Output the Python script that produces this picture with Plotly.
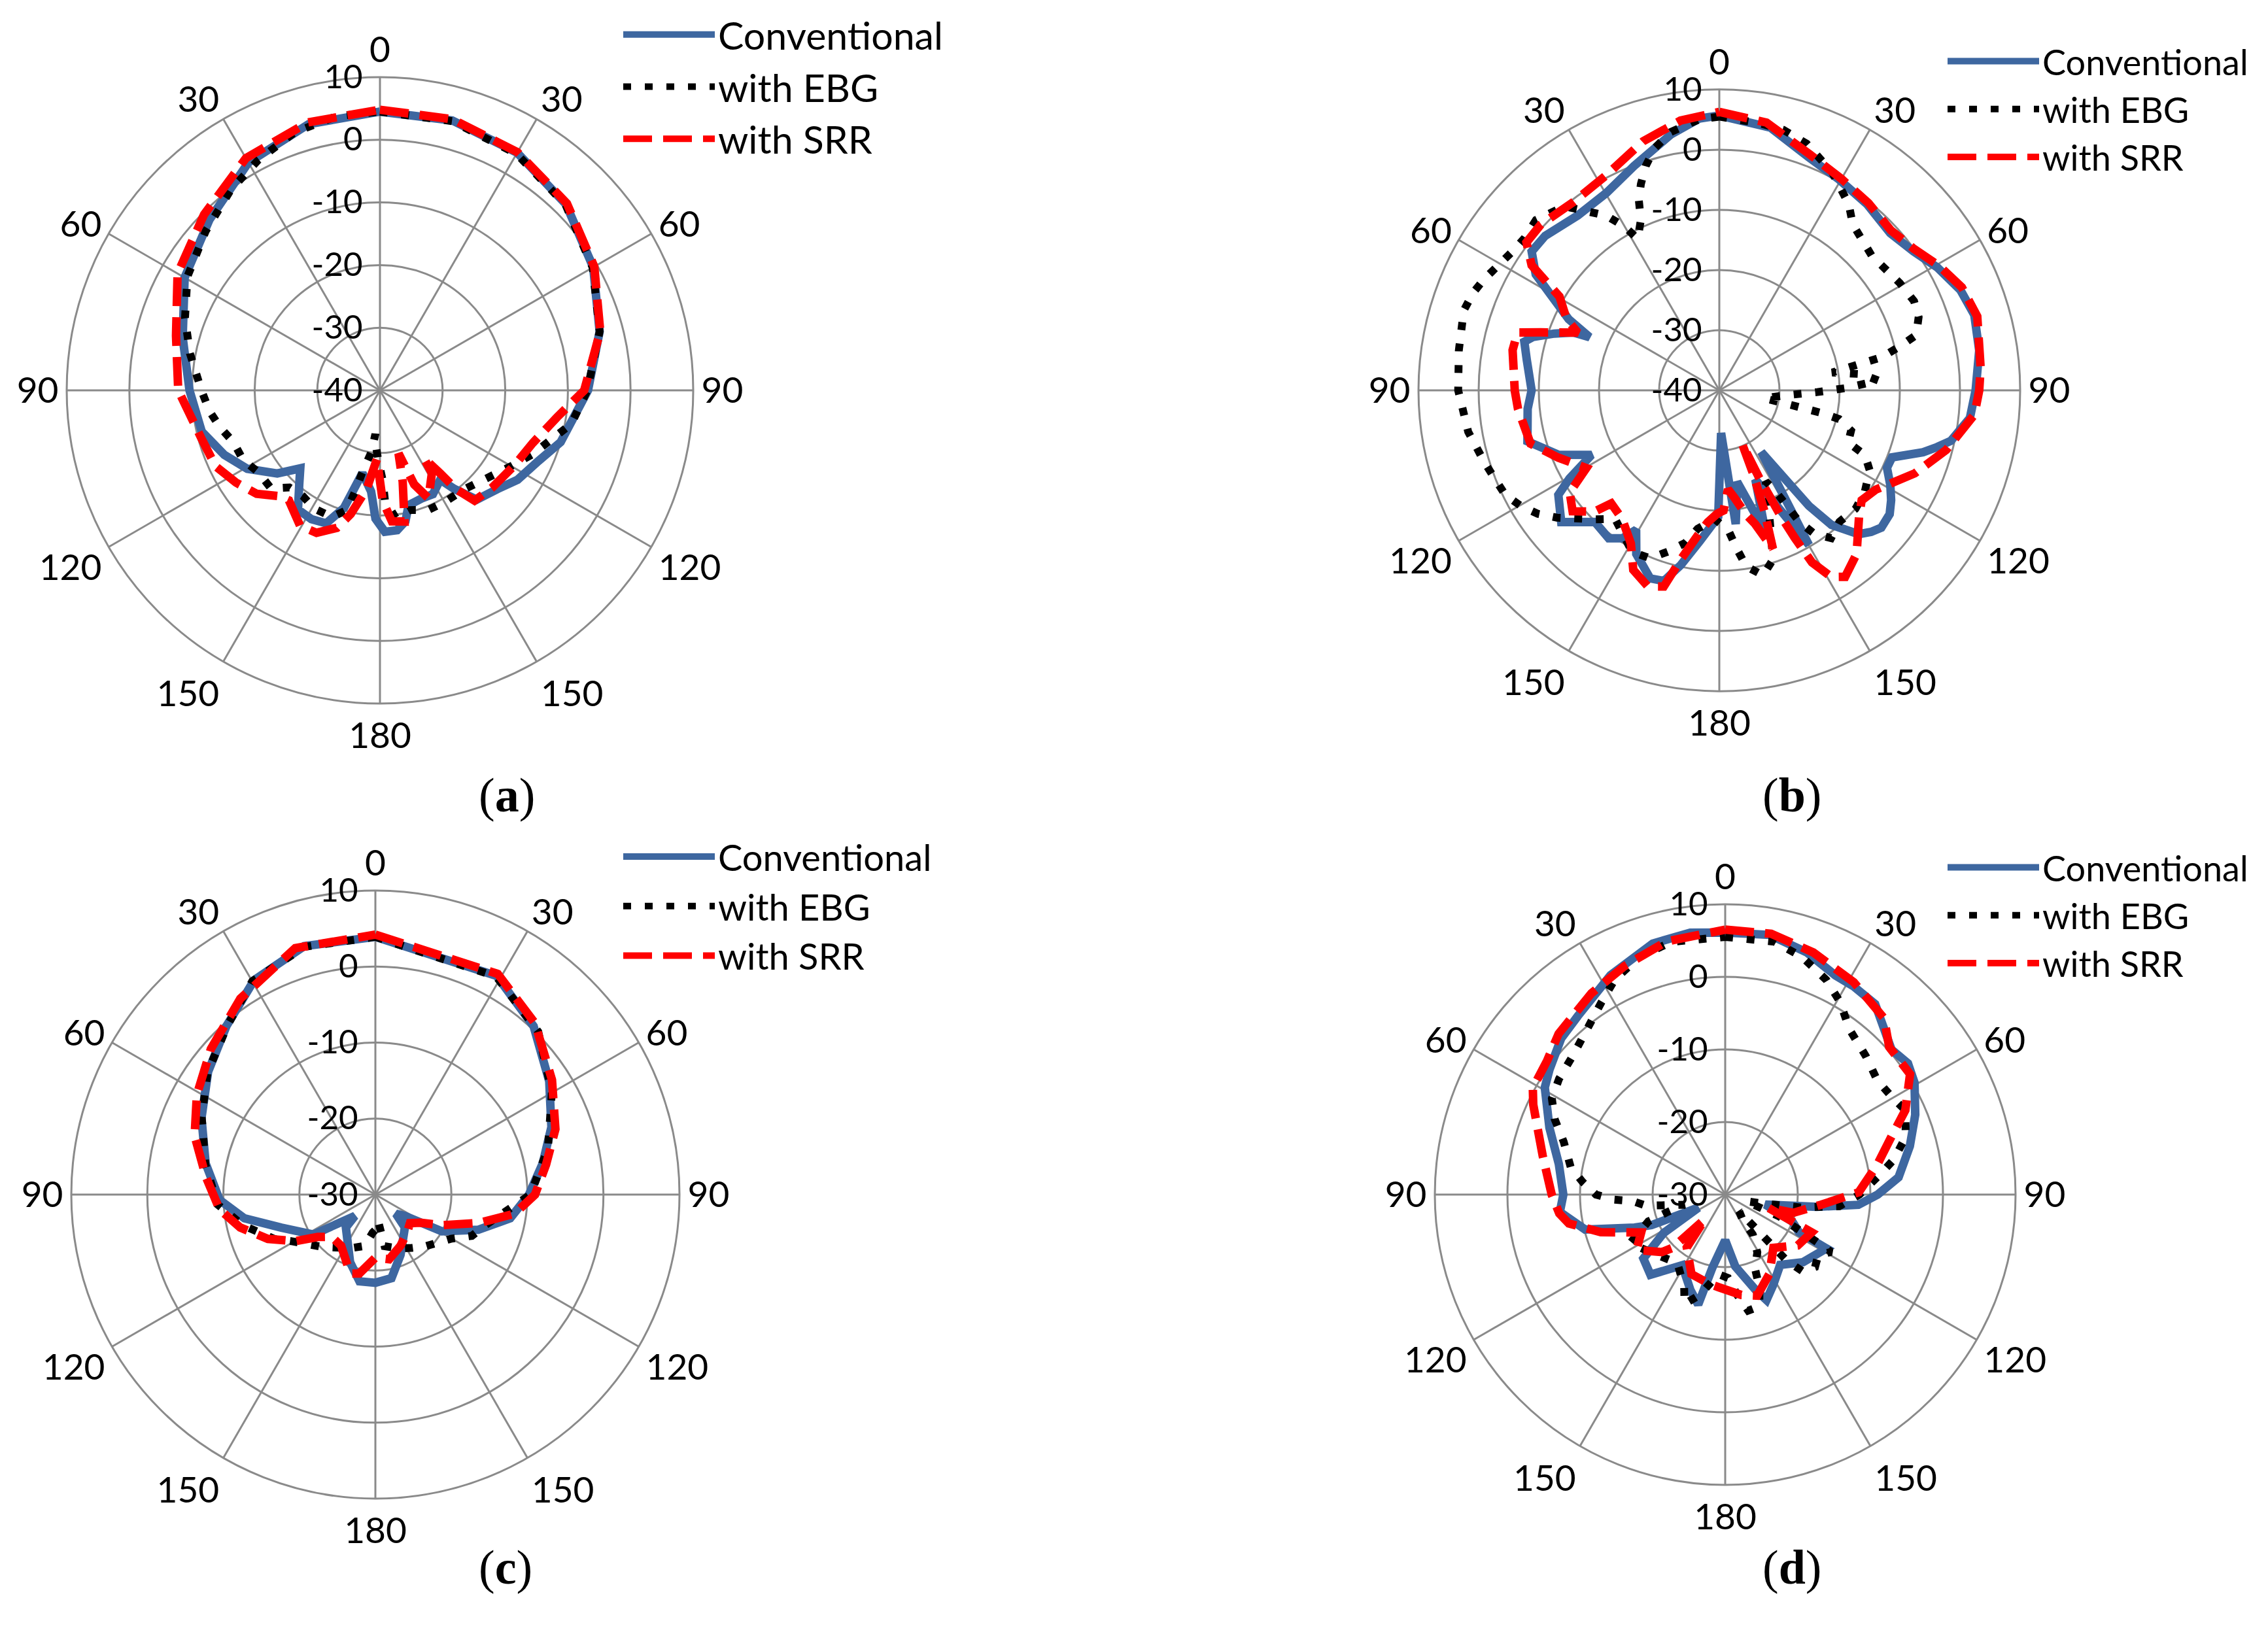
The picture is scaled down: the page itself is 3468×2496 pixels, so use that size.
import plotly.graph_objects as go

# ---------------- data (angle in degrees, gain in dB) ----------------
ang_vals = [0, 30, 60, 90, 120, 150, 180, 210, 240, 270, 300, 330]
ang_text = ["0", "30", "60", "90", "120", "150", "180", "150", "120", "90", "60", "30"]

# (a)
a_conv_t = [0, 15, 30, 45, 60, 75, 90, 106, 114, 123, 130, 138.5, 143, 146, 153, 159, 166, 169, 173, 178,
            182, 185, 192, 197, 202, 208, 214.5, 220.6, 225.6, 231, 239.4, 247.5, 257, 270, 285, 300, 315, 330, 345, 360]
a_conv_r = [4.5, 4.6, 3.8, 2.0, -0.7, -3.7, -6.8, -10.0, -12.3, -13.8, -15.5, -16.7, -20.3, -22.8, -21.4, -21.5, -21.1, -18.7, -17.5, -17.4,
            -19.5, -23.8, -26.5, -20.4, -17.1, -16.7, -16.9, -20.2, -22.2, -18.9, -15.4, -13.1, -10.8, -9.6, -7.4, -4.0, -1.5, 2.0, 4.0, 4.5]
a_ebg_t = [0, 15, 30, 45, 60, 75, 90, 100, 113, 120, 139, 149, 158, 166, 173, 177.4, 178.3, 181.6, 184, 186, 188, 192.2, 193.8, 195.4,
           200.7, 209, 216, 223, 228, 236, 243, 250.5, 257, 263, 270, 281, 290.4, 300.6, 312.5, 323.4, 332.2, 341.8, 351, 360]
a_ebg_r = [4.5, 4.5, 3.6, 1.9, -0.8, -3.7, -6.9, -9.0, -13.7, -15.8, -19.2, -19.4, -19.4, -20.3, -19.5, -22.4, -25.7, -29.0, -31.0, -33.0, -30.0, -26.5, -23.4, -20.2,
           -18.4, -18.4, -19.1, -18.8, -16.6, -16.6, -15.5, -15.2, -13.8, -12.6, -11.5, -9.1, -6.8, -4.3, -2.3, -0.1, 1.6, 3.4, 4.3, 4.5]
a_srr_t = [0, 15, 30, 45, 60, 75, 90, 98.6, 109, 119, 131, 139.4, 142.4, 144.1, 147.1, 147.9, 155.8, 160, 163.6, 166, 169.4, 174.8, 178.6,
           182.5, 187.7, 193.3, 197.4, 204, 210.5, 219.6, 223.5, 230, 237.4, 245.2, 254.8, 270, 285, 300, 315, 330, 345, 360]
a_srr_r = [4.8, 4.8, 3.9, 2.2, -0.5, -3.6, -7.4, -11.4, -14.2, -15.4, -16.3, -16.8, -20.1, -23.7, -27.1, -24.4, -21.1, -24.0, -29.5, -25.0, -18.7, -19.0, -22.4,
           -29.0, -24.1, -19.7, -17.0, -15.1, -14.9, -17.2, -16.7, -14.3, -12.7, -11.1, -10.5, -7.8, -6.3, -2.7, -0.3, 2.8, 4.3, 4.8]

# (b)
b_conv_t = [0, 11, 21, 29.6, 38.5, 47.4, 54.4, 60.6, 67.4, 73.5, 81.3, 90, 96.3, 102.3, 104.6, 106.9, 111.2, 114.8, 119, 122.6, 126, 130.3,
            133, 135.9, 140.2, 142.2, 145.8, 149.9, 158, 162, 169, 173, 177.6, 180.5, 187.4, 192.4, 196.2, 200.2, 206.9, 210.8, 213.2,
            216.8, 223.4, 230.2, 237, 239.5, 243.2, 248.2, 255.1, 264.5, 270, 279, 284, 286, 289, 291.6, 292.3, 295.3, 299.3, 302.3,
            306.5, 311.6, 321, 330.2, 339.2, 349.3, 355.8, 360]
b_conv_r = [5.7, 4.5, 1.5, 0.3, -0.5, -1.4, -0.3, 1.6, 3.4, 4.2, 3.7, 2.6, 1.9, -0.6, -2.6, -4.6, -9.2, -9.3, -7.5, -6.1, -5.0, -4.7,
            -5.5, -6.7, -10.9, -15.7, -27.6, -10.3, -24.0, -15.1, -24.5, -17.6, -32.9, -19.0, -14.7, -10.3, -7.0, -6.7, -9.5, -13.0, -10.6,
            -9.3, -9.9, -5.8, -8.1, -11.1, -16.2, -11.2, -7.0, -8.0, -8.8, -7.6, -6.6, -7.8, -11.0, -13.9, -16.7, -12.3, -8.1, -3.9,
            -1.2, -1.3, -2.6, -2.2, -0.1, 3.3, 5.3, 5.7]
b_ebg_t = [0, 8.6, 13.8, 19.5, 27.4, 34.8, 38.8, 48.6, 59.3, 65.4, 69.8, 74.3, 76.3, 78.5, 81, 83.5, 86.5, 89, 91, 93.5, 97, 100,
           101.5, 102.5, 103.5, 107, 112, 114, 118, 125, 131, 137.6, 142.9, 146.5, 148.7, 149.7, 151.1, 153, 158.8, 162.4, 166.7,
           171.3, 173.7, 176.3, 182.1, 188.9, 192.6, 197.6, 202.4, 208.4, 213.4, 219, 223.8, 231.9, 235.8, 239.8, 244, 252.8,
           260.6, 270, 278.7, 287.4, 291.7, 295.5, 299.5, 304, 308, 312.9, 319.9, 327.1, 330, 331.7, 335.3, 337.1, 339.2, 341.9,
           345.1, 349.4, 355.8, 360]
b_ebg_r = [5.5, 4.9, 4.6, 3.5, 0.8, -2.3, -4.6, -6.2, -5.1, -4.4, -4.7, -6.0, -9.1, -12.5, -21.0, -16.2, -13.5, -19.0, -23.7, -28.0, -31.0, -32.4,
           -28.0, -22.4, -19.5, -17.1, -16.9, -13.5, -11.7, -10.5, -10.0, -10.4, -9.2, -11.4, -14.4, -17.8, -21.1, -23.0, -16.8, -10.5, -8.4,
           -10.4, -13.5, -16.7, -18.6, -16.7, -14.0, -11.9, -9.8, -9.5, -11.1, -12.5, -10.3, -5.7, -3.5, -1.8, -0.4, 0.8,
           2.3, 3.4, 3.8, 4.5, 4.0, 3.2, 2.2, 1.4, 1.1, 1.6, 0.0, -5.4, -8.6, -11.4, -8.8, -5.6, -3.3, -0.7,
           1.7, 3.7, 5.2, 5.5]
b_srr_t = [0, 10, 21, 30, 38.5, 47, 54, 60.5, 67, 74, 85, 90, 95.4, 104.7, 113, 122.4, 127.7, 132.1, 140, 146, 149, 151.7, 152.9,
           153.9, 155.5, 156.9, 157.9, 159.5, 161.3, 165, 168, 172, 175, 178, 181, 185, 188.5, 192.8, 195.8, 200, 205.6, 210, 217,
           223.7, 225.8, 230.5, 235.7, 239.7, 247.3, 254.2, 264.7, 270, 281, 286, 288, 292.2, 295, 300.4, 303.7, 307.5, 312.9,
           322.2, 332.3, 343, 351.8, 360]
b_srr_r = [6.3, 5.2, 2.0, 0.6, -0.2, -1.0, 0.0, 2.0, 3.8, 4.6, 3.6, 3.2, 2.6, -1.0, -4.7, -9.2, -10.1, -8.7, -4.5, -2.6, -3.8, -7.5, -12.4,
           -16.6, -24.0, -30.3, -25.1, -18.6, -12.2, -17.0, -19.0, -22.0, -23.5, -20.0, -19.5, -18.0, -15.6, -11.2, -6.1, -5.3, -6.9, -10.6, -13.2,
           -14.0, -11.1, -8.4, -9.9, -14.4, -11.0, -7.4, -6.4, -6.0, -5.0, -5.1, -8.8, -14.6, -12.0, -9.2, -2.5, 0.4, 0.5,
           -0.4, 0.4, 3.3, 5.3, 6.3]

# (c)
c_conv_t = [0, 29, 43.2, 56.9, 69, 79.4, 90, 100, 108.9, 118.9, 125.9, 133, 138, 157.4, 169.1, 180, 190.4, 200.5, 222, 223.8,
            237.2, 250.6, 259.7, 268, 280.4, 293.8, 306.3, 318.6, 330.5, 344, 360]
c_conv_r = [3.9, 2.9, 0.4, -2.7, -5.2, -7.6, -9.8, -12.0, -15.7, -20.0, -25.2, -26.3, -24.2, -21.4, -18.8, -18.4, -18.4, -20.5, -24.2, -26.1,
            -20.3, -16.9, -12.5, -9.5, -7.3, -5.0, -2.7, -0.4, 2.4, 4.0, 3.9]
c_ebg_t = [0, 29, 45, 60, 75, 90, 105.6, 113.2, 120.4, 135.5, 145.6, 156.9, 169.9, 174, 178, 184, 191.6, 205.2, 225.3, 240.5,
           246.2, 257, 266.4, 280, 294, 306, 319, 330, 344, 360]
c_ebg_r = [3.9, 2.8, 0.3, -3.2, -6.5, -9.6, -15.0, -16.2, -18.5, -20.5, -21.5, -22.3, -23.1, -26.5, -25.5, -25.0, -23.1, -22.2, -20.2, -17.5,
           -15.5, -12.1, -9.2, -7.3, -5.0, -2.7, -0.4, 2.4, 3.9, 3.9]
c_srr_t = [0, 29, 43, 57, 70, 80, 90, 97.8, 105.4, 114.8, 122, 129.6, 140, 153.8, 168, 180, 191.5, 197.7, 213.8, 226, 233.6,
           239.8, 247.6, 256.3, 264.6, 275.9, 288, 299.2, 311.5, 325.4, 342, 360]
c_srr_r = [4.2, 3.2, 0.8, -2.3, -4.8, -7.2, -9.0, -11.5, -15.9, -20.4, -23.0, -24.1, -23.5, -22.5, -21.3, -21.7, -19.4, -19.1, -21.9, -22.0, -20.6,
           -17.8, -14.7, -11.7, -9.4, -7.6, -5.0, -3.1, -1.1, 1.3, 4.1, 4.2]

# (d)
d_conv_t = [0, 9.7, 18.7, 26.7, 31.7, 38.2, 43.9, 48.9, 54.3, 59.4, 67.2, 75.3, 84.3, 90, 94.4, 97.6, 104, 112, 117, 118, 131,
            142, 152, 158.6, 162.5, 172, 180, 189.9, 193.8, 200, 211.3, 223, 232, 238, 244, 247.5, 250, 256, 264, 270, 280.4,
            290.8, 300.7, 305.4, 313.6, 320.5, 332.4, 343.9, 352.4, 360]
d_conv_r = [6.1, 6.3, 5.2, 3.8, 3.7, 3.4, 1.6, 0.4, 1.0, 0.3, -1.6, -3.7, -6.0, -9.0, -11.6, -17.3, -24.3, -20.0, -18.6, -14.2, -15.8,
            -17.7, -15.9, -14.4, -16.3, -20.0, -23.7, -19.8, -14.4, -16.0, -18.6, -14.9, -15.7, -20.0, -25.9, -19.0, -16.7, -10.1, -7.1, -7.7, -6.7,
            -4.1, -1.1, -0.3, 1.2, 1.9, 4.1, 6.0, 6.4, 6.1]
d_ebg_t = [0, 11, 18, 25.2, 30.8, 36.9, 45.4, 53.2, 59.5, 64.9, 72.3, 78.3, 82, 90, 95.8, 99.6, 103.6, 107.6, 112, 118.4, 123.2,
           128.9, 134.8, 137, 140, 145.3, 145.4, 150.9, 158.1, 159.7, 163, 168.8, 173, 178, 185, 194, 200.4, 204, 215, 229.8,
           242.9, 250.8, 253, 256, 262, 266, 267.4, 270, 275, 280, 288.1, 293.9, 299, 304.9, 312.3, 320.2, 327.2, 332.8,
           340, 348, 360]
d_ebg_r = [5.5, 5.5, 4.4, 2.7, 0.9, -1.5, -2.8, -3.8, -3.4, -2.6, -3.9, -6.3, -8.2, -11.5, -14.2, -19.3, -24.8, -27.0, -22.0, -13.4, -14.7,
           -14.1, -15.0, -17.5, -27.0, -25.8, -23.3, -20.9, -19.0, -16.4, -13.9, -13.7, -16.0, -18.5, -19.0, -15.8, -13.9, -16.1, -18.5, -17.3,
           -15.3, -18.8, -21.5, -24.2, -19.0, -17.2, -14.7, -12.2, -10.3, -8.4, -6.6, -4.3, -2.7, -2.1, -1.6, -0.3, 1.5, 3.3,
           4.8, 5.6, 5.5]
d_srr_t = [0, 10, 20, 31.2, 42, 48, 56.9, 64.9, 70.9, 78.7, 89, 96, 105, 107, 113.6, 125, 137.9, 150.8, 162.4, 170.9, 184, 190,
           203, 216, 219.5, 224.6, 227.8, 238, 245.7, 253.2, 259.5, 263.5, 270, 282, 295.1, 299, 307, 314, 326.4, 336.2, 347, 360]
d_srr_r = [6.5, 6.5, 5.5, 4.2, 2.7, 0.4, 0.4, -2.6, -5.8, -8.6, -11.6, -16.7, -20.3, -23.8, -17.0, -17.8, -20.1, -17.5, -15.4, -16.0, -17.2, -17.5,
           -18.1, -21.0, -25.6, -19.7, -18.2, -15.6, -17.3, -12.1, -8.1, -7.0, -6.1, -4.3, -0.8, 0.3, 0.7, 1.9, 3.3, 4.4, 5.8, 6.5]

series_names = ["Conventional", "with EBG", "with SRR"]
panel_labels = ["a", "b", "c", "d"]

# ---------------- layout geometry ----------------
W, H = 3468, 2496
# (center x, center y, radius) in pixels
geom = [(573, 589, 479), (2621, 589, 460), (566, 1819, 465), (2630, 1819, 444)]
ranges = [[-40, 10], [-40, 10], [-30, 10], [-30, 10]]
# legend: (left x, top y, font size, group gap)
legend_cfg = [(940, 0, 59, 16), (2965, 44, 54, 16), (940, 1259, 56, 23), (2965, 1277, 54, 22)]
label_pos = [(722, 1208), (2779, 1208), (722, 2432), (2779, 2432)]

data = [
    [(a_conv_t, a_conv_r), (a_ebg_t, a_ebg_r), (a_srr_t, a_srr_r)],
    [(b_conv_t, b_conv_r), (b_ebg_t, b_ebg_r), (b_srr_t, b_srr_r)],
    [(c_conv_t, c_conv_r), (c_ebg_t, c_ebg_r), (c_srr_t, c_srr_r)],
    [(d_conv_t, d_conv_r), (d_ebg_t, d_ebg_r), (d_srr_t, d_srr_r)],
]

styles = [
    dict(color="#3E67A0", width=13, dash="solid"),
    dict(color="#000000", width=12, dash="12px,21px"),
    dict(color="#FF0000", width=13, dash="44px,17px"),
]

GRID = "#8A8A8A"
FONT = "Lato"

fig = go.Figure()
layout = dict(width=W, height=H, margin=dict(l=0, r=0, t=0, b=0, autoexpand=False),
              paper_bgcolor="white", plot_bgcolor="white", showlegend=True)
annotations = []

for i in range(4):
    pk = "polar" if i == 0 else f"polar{i+1}"
    lk = "legend" if i == 0 else f"legend{i+1}"
    cx, cy, rad = geom[i]
    for j in range(3):
        t, r = data[i][j]
        fig.add_trace(go.Scatterpolar(
            theta=t, r=r, mode="lines", name=series_names[j],
            line=dict(color=styles[j]["color"], width=styles[j]["width"], dash=styles[j]["dash"]),
            subplot=pk, legend=lk, legendgroup=f"{i}-{j}", showlegend=True,
            hoverinfo="skip"))
    lo, hi = ranges[i]
    rvals = list(range(lo, hi + 1, 10))
    layout[pk] = dict(
        domain=dict(x=[(cx - rad) / W, (cx + rad) / W], y=[1 - (cy + rad) / H, 1 - (cy - rad) / H]),
        bgcolor="white",
        angularaxis=dict(rotation=90, direction="clockwise", tickmode="array",
                         tickvals=ang_vals, ticktext=ang_text, showgrid=True,
                         gridcolor=GRID, gridwidth=3, showline=True, linecolor=GRID,
                         linewidth=3, ticks="",
                         tickfont=dict(family=FONT, size=55, color="black")),
        radialaxis=dict(range=[lo, hi], tickmode="array", tickvals=rvals,
                        ticktext=[str(v) for v in rvals],
                        angle=90, side="counterclockwise", tickangle=90, showline=False,
                        ticks="outside", ticklen=8, tickcolor="rgba(0,0,0,0)",
                        showgrid=True, gridcolor=GRID, gridwidth=3,
                        tickfont=dict(family=FONT, size=51, color="black")),
    )
    lx, ly, lfs, lgap = legend_cfg[i]
    layout[lk] = dict(x=lx / W, y=1 - ly / H, xanchor="left", yanchor="top",
                      font=dict(family=FONT, size=lfs, color="black"),
                      bgcolor="rgba(0,0,0,0)", itemwidth=140, tracegroupgap=lgap,
                      traceorder="normal")
    px, py = label_pos[i]
    annotations.append(dict(text=f"(<b>{panel_labels[i]}</b>)", x=px / W, y=1 - py / H,
                            xref="paper", yref="paper", showarrow=False,
                            font=dict(family="Liberation Serif", size=74, color="black")))

layout["annotations"] = annotations
fig.update_layout(**layout)

# nudge radial tick labels up toward their rings, if this plotly version supports it
for i in range(4):
    pk = "polar" if i == 0 else f"polar{i+1}"
    try:
        fig.update_layout({pk: {"radialaxis": {"ticklabelshift": 24}}})
    except Exception:
        pass

fig.write_html("out.html")
